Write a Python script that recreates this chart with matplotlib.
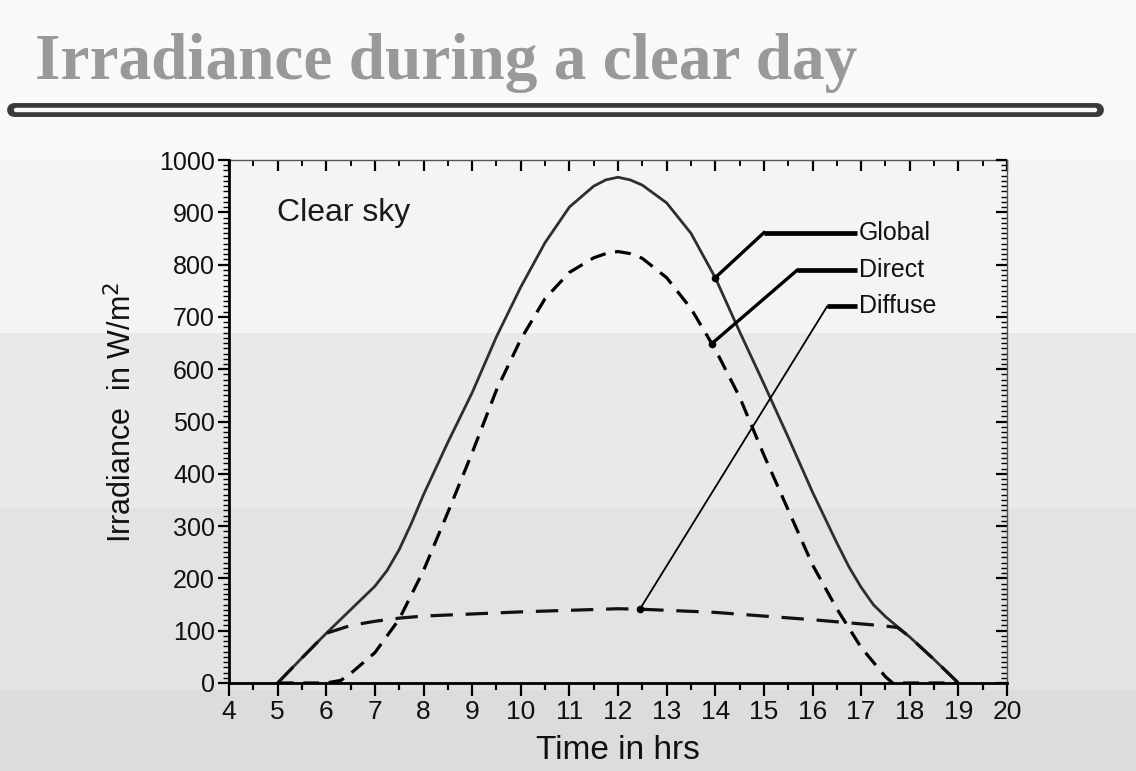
import numpy as np
import matplotlib
matplotlib.use("Agg")
import matplotlib.pyplot as plt
from matplotlib.ticker import MultipleLocator
from matplotlib.patches import Rectangle
from matplotlib.lines import Line2D

# data (time in hours, irradiance in W/m2)
global_hours = [5, 5.5, 6, 6.5, 7, 7.25, 7.5, 7.75, 8, 8.5, 9, 9.5, 10, 10.5, 11, 11.5, 11.75, 12,
                12.25, 12.5, 13, 13.5, 14, 14.5, 15, 15.5, 16, 16.5, 16.75, 17, 17.25, 17.5, 18, 18.5, 19]
global_vals = [0, 48, 95, 140, 185, 215, 255, 305, 360, 460, 555, 662, 757, 842, 910, 950, 962, 967,
               962, 952, 918, 860, 775, 672, 572, 470, 365, 268, 222, 183, 150, 127, 88, 45, 0]

direct_hours = [5, 5.5, 6, 6.3, 6.5, 7, 7.5, 8, 8.5, 9, 9.5, 10, 10.5, 11, 11.5, 11.75, 12,
                12.25, 12.5, 13, 13.5, 14, 14.5, 15, 15.5, 16, 16.5, 17, 17.5, 17.65, 18, 18.5, 19]
direct_vals = [0, 0, 0, 5, 18, 58, 122, 215, 326, 440, 560, 657, 735, 785, 813, 821, 825,
               821, 812, 775, 716, 638, 547, 436, 331, 226, 142, 68, 12, 0, 0, 0, 0]

diffuse_hours = [5, 5.5, 6, 6.5, 7, 7.5, 8, 9, 10, 11, 12, 12.5, 13, 14, 15, 16,
                 16.5, 17, 17.5, 17.75, 18, 18.5, 19]
diffuse_vals = [0, 48, 95, 110, 118, 124, 128, 132, 136, 139, 142, 141, 139, 135, 128, 121,
                117, 113, 109, 106, 88, 45, 0]

labels = ["Global", "Direct", "Diffuse"]
label_tip_hours = [14.0, 13.93, 12.45]     # where each leader touches its curve
label_elbows = [(15.0, 861), (15.68, 789), (16.3, 720)]
label_end_hour = 16.92

W, H = 1136, 771
fig = plt.figure(figsize=(W / 100, H / 100), dpi=100)

# slide background bands
bands = [(0, 160, "#f9f9f9"), (160, 333, "#f4f4f4"), (333, 508, "#e9e9e9"),
         (508, 690, "#e3e3e3"), (690, 771, "#dcdcdc")]
for top_px, bot_px, col in bands:
    fig.add_artist(Rectangle((0, 1 - bot_px / H), 1, (bot_px - top_px) / H,
                             transform=fig.transFigure, facecolor=col,
                             edgecolor="none", zorder=-10))

# title and underline bar
fig.text(35 / W, 1 - 79 / H, "Irradiance during a clear day", family="Liberation Serif",
         weight="bold", fontsize=47, color="#999999", va="baseline", ha="left")
fig.add_artist(Line2D([14 / W, 1097 / W], [1 - 110 / H] * 2, transform=fig.transFigure,
                      color="#3a3a3a", lw=10, solid_capstyle="round"))
fig.add_artist(Line2D([16 / W, 1095 / W], [1 - 110 / H] * 2, transform=fig.transFigure,
                      color="#fbfbfb", lw=3.2, solid_capstyle="round"))

ax = fig.add_axes([229 / W, 1 - 683 / H, (1007 - 229) / W, (683 - 160) / H])
ax.set_facecolor("none")

ax.plot(global_hours, global_vals, color="#2e2e2e", lw=2.0, solid_joinstyle="round")
ax.plot(direct_hours, direct_vals, color="black", lw=2.3, dashes=(5, 3))
ax.plot(diffuse_hours, diffuse_vals, color="#111111", lw=2.3, dashes=(7, 4))

series = [(global_hours, global_vals), (direct_hours, direct_vals), (diffuse_hours, diffuse_vals)]
diag_lw = [2.4, 2.4, 1.3]
for name, (hx, hv), tip_h, (ex, ey), dlw in zip(labels, series, label_tip_hours, label_elbows, diag_lw):
    tip_v = np.interp(tip_h, hx, hv)
    ax.plot([tip_h, ex], [tip_v, ey], color="black", lw=dlw)
    ax.plot([ex, label_end_hour], [ey, ey], color="black", lw=3.4, solid_capstyle="butt")
    ax.plot([tip_h], [tip_v], marker="o", ms=4.5, color="black")
    ax.text(label_end_hour + 0.03, ey, name, fontsize=18, family="Liberation Sans",
            va="center", ha="left", color="#111111")

ax.text(0.062, 0.899, "Clear sky", transform=ax.transAxes, fontsize=23,
        family="Liberation Sans", va="center", ha="left", color="#1a1a1a")

ax.set_xlim(4, 20)
ax.set_ylim(0, 1000)
ax.xaxis.set_major_locator(MultipleLocator(1))
ax.xaxis.set_minor_locator(MultipleLocator(0.5))
ax.yaxis.set_major_locator(MultipleLocator(100))
ax.yaxis.set_minor_locator(MultipleLocator(10))

ax.tick_params(axis="x", which="major", direction="out", length=9, width=1.6, pad=3,
               labelsize=19, labelcolor="#111111")
ax.tick_params(axis="x", which="minor", direction="out", length=5, width=1.6)
ax.tick_params(axis="y", which="major", direction="out", length=8, width=1.6, pad=2,
               labelsize=18, labelcolor="#111111")
ax.tick_params(axis="y", which="minor", direction="out", length=4.5, width=1.0)
for lab in ax.get_xticklabels() + ax.get_yticklabels():
    lab.set_family("Liberation Sans")

ax.spines["left"].set_linewidth(2.0)
ax.spines["bottom"].set_linewidth(2.0)
ax.spines["top"].set_visible(False)
ax.spines["right"].set_visible(False)

top = ax.secondary_xaxis("top")
top.xaxis.set_major_locator(MultipleLocator(1))
top.xaxis.set_minor_locator(MultipleLocator(0.5))
top.tick_params(which="major", direction="in", length=8, width=1.6, labeltop=False)
top.tick_params(which="minor", direction="in", length=4, width=1.4)
top.spines["top"].set_color("#555555")
top.spines["top"].set_linewidth(1.0)

right = ax.secondary_yaxis("right")
right.yaxis.set_major_locator(MultipleLocator(100))
right.yaxis.set_minor_locator(MultipleLocator(10))
right.tick_params(which="major", direction="in", length=8, width=1.6, labelright=False)
right.tick_params(which="minor", direction="in", length=4, width=1.0)
right.spines["right"].set_color("#555555")
right.spines["right"].set_linewidth(1.0)

ax.set_xlabel("Time in hrs", fontsize=24, family="Liberation Sans", color="#111111")
ax.xaxis.set_label_coords(0.5, -0.1)
ax.set_ylabel("Irradiance  in W/m$^2$", fontsize=22, family="Liberation Sans", color="#111111")
ax.yaxis.set_label_coords(-0.116, 0.518)

fig.savefig("out.png", dpi=100)
